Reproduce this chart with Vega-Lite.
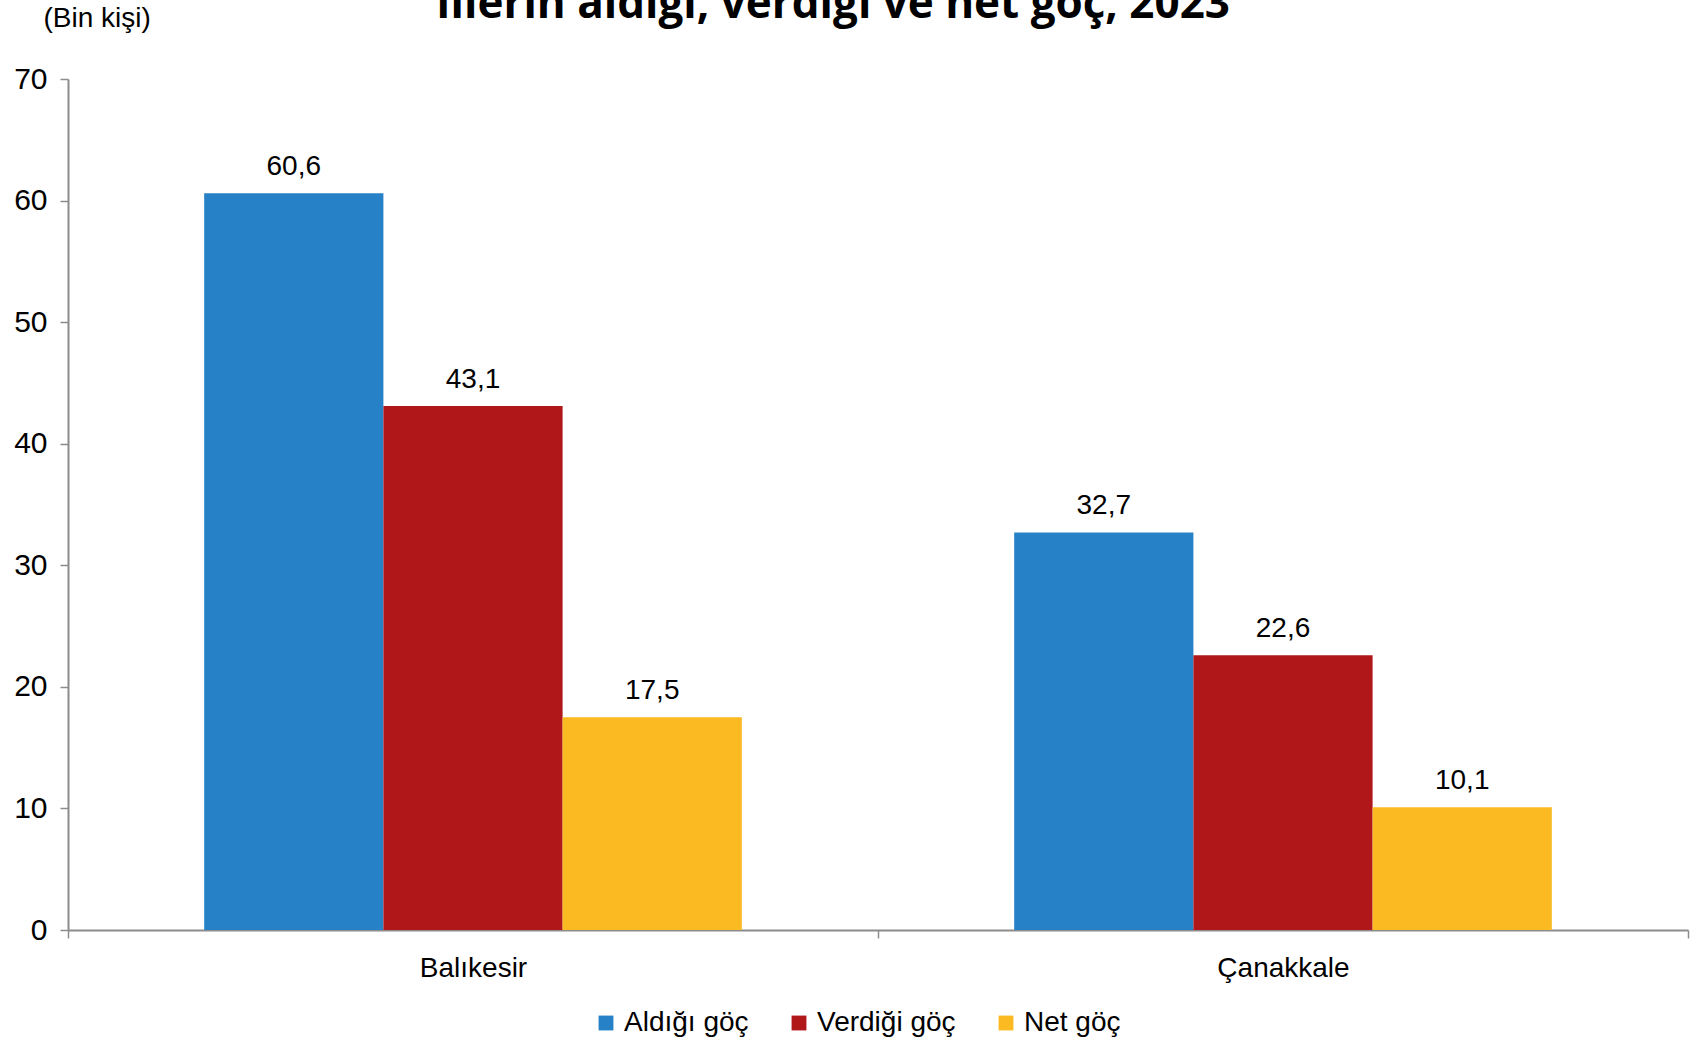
{
  "$schema": "https://vega.github.io/schema/vega-lite/v6.json",
  "autosize": "none",
  "width": 1620,
  "height": 851,
  "padding": {"left": 68, "top": 79, "right": 14, "bottom": 114},
  "background": "white",
  "title": {
    "text": "İllerin aldığı, verdiği ve net göç, 2023",
    "font": "Open Sans",
    "fontWeight": "bold",
    "fontSize": 44,
    "color": "#000000",
    "anchor": "middle",
    "baseline": "alphabetic",
    "offset": 0,
    "dx": -45,
    "dy": 58
  },
  "data": {
    "values": [
      {"il": "Balıkesir", "tur": "Aldığı göç", "deger": 60.6, "etiket": "60,6"},
      {"il": "Balıkesir", "tur": "Verdiği göç", "deger": 43.1, "etiket": "43,1"},
      {"il": "Balıkesir", "tur": "Net göç", "deger": 17.5, "etiket": "17,5"},
      {"il": "Çanakkale", "tur": "Aldığı göç", "deger": 32.7, "etiket": "32,7"},
      {"il": "Çanakkale", "tur": "Verdiği göç", "deger": 22.6, "etiket": "22,6"},
      {"il": "Çanakkale", "tur": "Net göç", "deger": 10.1, "etiket": "10,1"}
    ]
  },
  "encoding": {
    "x": {
      "field": "il",
      "type": "nominal",
      "sort": null,
      "scale": {"paddingInner": 0, "paddingOuter": 0},
      "axis": {
        "title": null,
        "labelAngle": 0,
        "labelFont": "Liberation Sans",
        "labelFontSize": 28,
        "labelColor": "#000000",
        "labelPadding": 16,
        "tickBand": "extent",
        "tickSize": 8,
        "tickColor": "#8c8c8c",
        "domainColor": "#8c8c8c",
        "domainWidth": 2,
        "tickWidth": 1.5,
        "grid": false
      }
    },
    "xOffset": {
      "field": "tur",
      "type": "nominal",
      "sort": ["Aldığı göç", "Verdiği göç", "Net göç"],
      "scale": {"paddingInner": 0, "paddingOuter": 0.76}
    },
    "y": {
      "field": "deger",
      "type": "quantitative",
      "scale": {"domain": [0, 70], "nice": false},
      "axis": {
        "values": [0, 10, 20, 30, 40, 50, 60, 70],
        "title": "(Bin kişi)",
        "titleAngle": 0,
        "titleX": -25,
        "titleY": -61,
        "titleAlign": "left",
        "titleBaseline": "middle",
        "titleFont": "Liberation Sans",
        "titleFontSize": 28,
        "titleFontWeight": "normal",
        "titleColor": "#000000",
        "labelFont": "Liberation Sans",
        "labelFontSize": 30,
        "labelColor": "#000000",
        "labelPadding": 13,
        "tickSize": 8,
        "tickColor": "#8c8c8c",
        "tickWidth": 1.5,
        "domainColor": "#8c8c8c",
        "domainWidth": 2,
        "grid": false
      }
    },
    "color": {
      "field": "tur",
      "type": "nominal",
      "sort": ["Aldığı göç", "Verdiği göç", "Net göç"],
      "scale": {
        "domain": ["Aldığı göç", "Verdiği göç", "Net göç"],
        "range": ["#2681C6", "#AF1719", "#FBB922"]
      },
      "legend": {
        "title": null,
        "orient": "none",
        "direction": "horizontal",
        "legendX": 524,
        "legendY": 930,
        "symbolType": "square",
        "symbolSize": 220,
        "symbolStrokeWidth": 0,
        "labelFont": "Liberation Sans",
        "labelFontSize": 28,
        "labelColor": "#000000",
        "labelOffset": 4,
        "columnPadding": 36
      }
    }
  },
  "layer": [
    {"mark": {"type": "bar"}},
    {
      "mark": {"type": "text", "baseline": "bottom", "dy": -12, "font": "Liberation Sans", "fontSize": 28, "color": "#000000"},
      "encoding": {"text": {"field": "etiket"}, "color": {"value": "#000000"}}
    }
  ],
  "config": {"view": {"stroke": null}}
}
